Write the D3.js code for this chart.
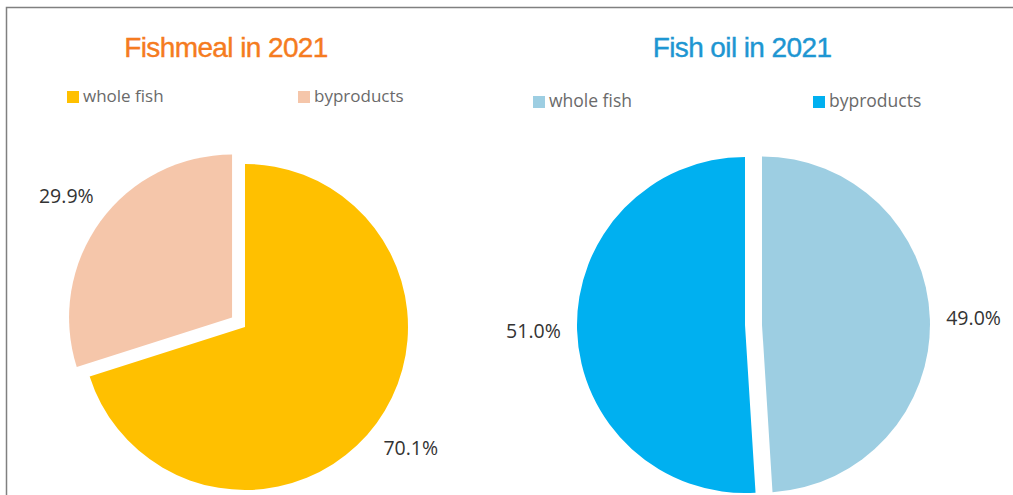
<!DOCTYPE html>
<html>
<head>
<meta charset="utf-8">
<script src="https://cdn.jsdelivr.net/npm/d3@7"></script>
<style>
  body { margin: 0; background: #fff; }
  svg { display: block; }
</style>
</head>
<body>
<script>
// data
var categories = ["whole fish", "byproducts"]
var fishmealValues = [70.1, 29.9]
var fishoilValues = [49.0, 51.0]
var titles = ["Fishmeal in 2021", "Fish oil in 2021"]

var width = 1013, height = 495

var svg = d3.select("body")
    .append("svg")
    .attr("width", width)
    .attr("height", height)

svg.append("rect")
    .attr("width", width)
    .attr("height", height)
    .attr("fill", "#fff")

// frame (left + top only)
svg.append("path")
    .attr("d", "M6.5," + height + "V7.5H" + width)
    .attr("fill", "none")
    .attr("stroke", "#808080")
    .attr("stroke-width", 1.5)

var charts = [
    {
        title: titles[0], values: fishmealValues,
        titleColor: "#F57B20", titleX: 226,
        colors: ["#FFC000", "#F5C6AA"],
        cx: 245, cy: 327, r: 163,
        explode: [0, 16],
        legendX: [67, 298], legendY: 97, legendSize: 17
    },
    {
        title: titles[1], values: fishoilValues,
        titleColor: "#1E96D2", titleX: 742,
        colors: ["#9DCEE2", "#00B0F0"],
        cx: 745, cy: 325, r: 168,
        explode: [17, 0],
        legendX: [533, 813], legendY: 102, legendSize: 17.5
    }
]

var pie = d3.pie().sort(null).value(function (d) { return d })

charts.forEach(function (c) {
    var g = svg.append("g")

    g.append("text")
        .attr("x", c.titleX)
        .attr("y", 57)
        .attr("text-anchor", "middle")
        .attr("font-family", "Liberation Sans, Arial, sans-serif")
        .attr("font-size", 28)
        .attr("letter-spacing", -0.6)
        .attr("stroke", c.titleColor)
        .attr("stroke-width", 0.4)
        .attr("fill", c.titleColor)
        .text(c.title)

    // legend
    categories.forEach(function (cat, i) {
        g.append("rect")
            .attr("x", c.legendX[i])
            .attr("y", c.legendY - 6)
            .attr("width", 12)
            .attr("height", 12)
            .attr("fill", c.colors[i])
        g.append("text")
            .attr("x", c.legendX[i] + 16)
            .attr("y", c.legendY + 5)
            .attr("font-family", "Open Sans, sans-serif")
            .attr("font-size", c.legendSize)
            .attr("fill", "#6a6a6a")
            .text(cat)
    })

    var arc = d3.arc().innerRadius(0).outerRadius(c.r)
    var labelArc = d3.arc().innerRadius(c.r * 1.26).outerRadius(c.r * 1.26)

    var slices = g.selectAll("g.slice")
        .data(pie(c.values))
        .enter()
        .append("g")
        .attr("class", "slice")
        .attr("transform", function (d, i) {
            var a = (d.startAngle + d.endAngle) / 2
            var e = c.explode[i]
            return "translate(" + (c.cx + e * Math.sin(a)) + "," + (c.cy - e * Math.cos(a)) + ")"
        })

    slices.append("path")
        .attr("d", arc)
        .attr("fill", function (d, i) { return c.colors[i] })

    slices.append("text")
        .attr("transform", function (d) { return "translate(" + labelArc.centroid(d) + ")" })
        .attr("dy", "0.35em")
        .attr("text-anchor", "middle")
        .attr("font-family", "Open Sans, sans-serif")
        .attr("font-size", 19.5)
        .attr("fill", "#333")
        .text(function (d) { return d.data.toFixed(1) + "%" })
})
</script>
</body>
</html>
